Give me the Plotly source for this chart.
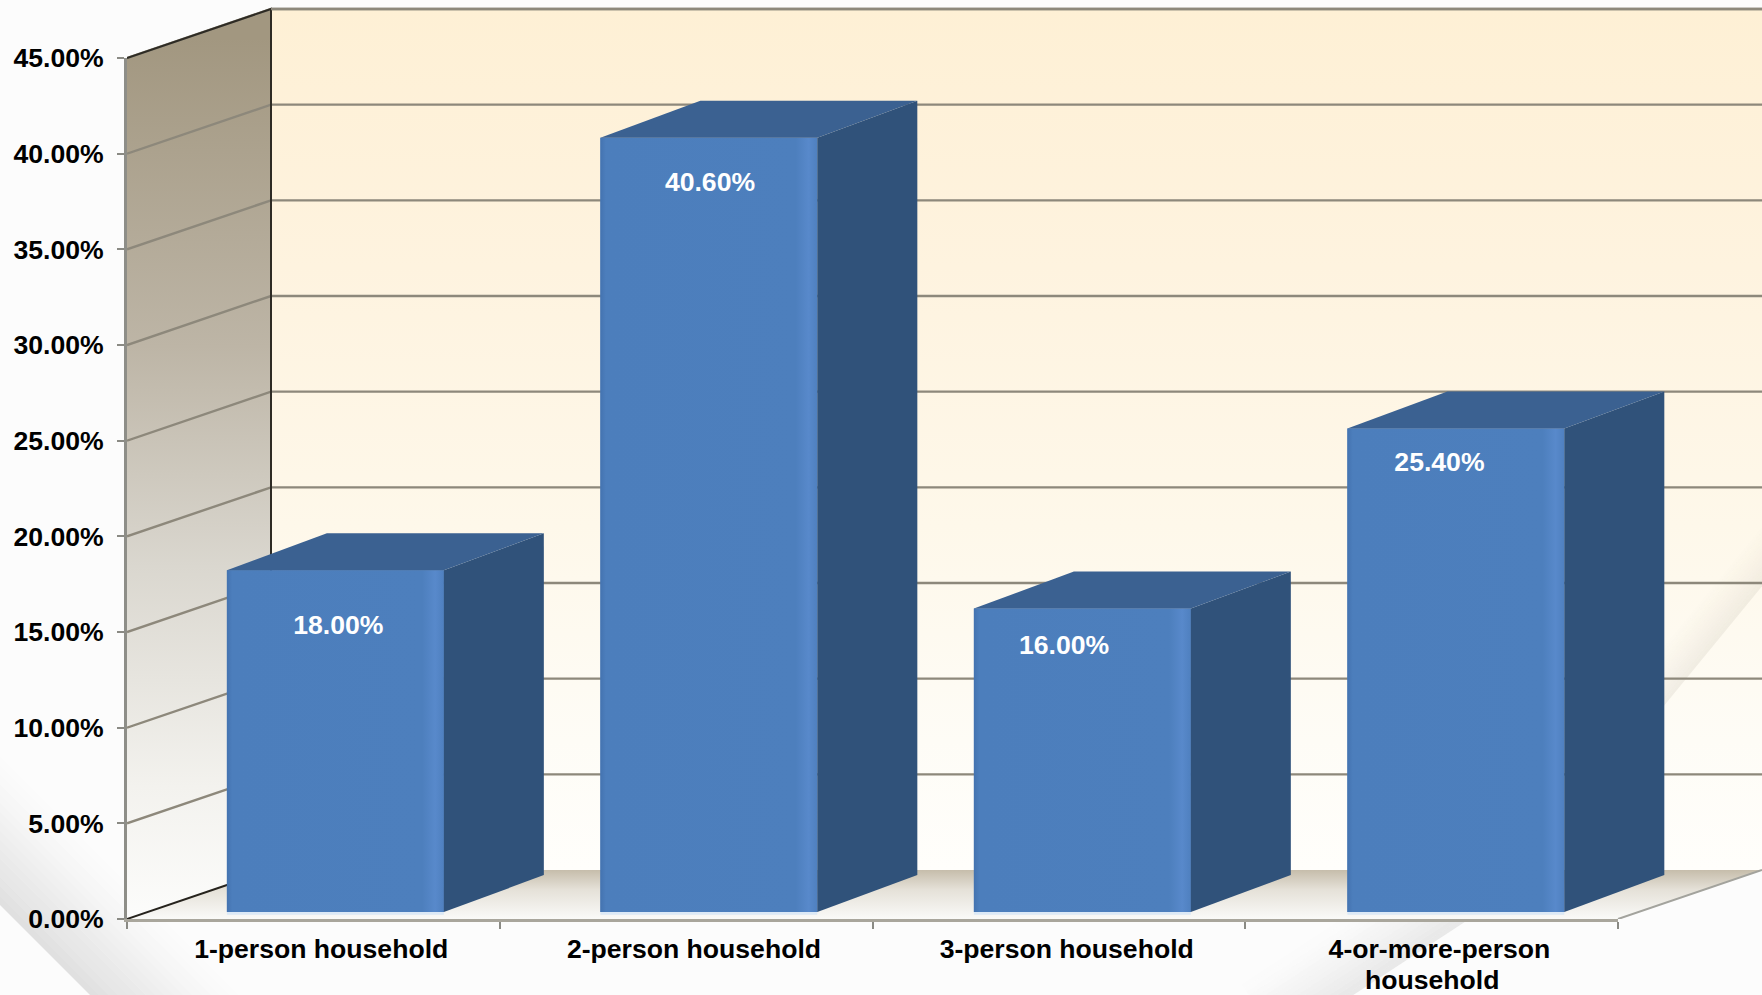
import plotly.graph_objects as go

# ---- data ----
categories = ["1-person household", "2-person household", "3-person household",
              "4-or-more-person<br>household"]
values = [18.0, 40.6, 16.0, 25.4]
value_labels = ["18.00%", "40.60%", "16.00%", "25.40%"]
y_ticks = [0, 5, 10, 15, 20, 25, 30, 35, 40, 45]
y_tick_labels = ["0.00%", "5.00%", "10.00%", "15.00%", "20.00%", "25.00%", "30.00%",
                 "35.00%", "40.00%", "45.00%"]

# ---- layout constants (pixels of the 1762x995 page) ----
W, H = 1762, 995
AX_L, AX_R, AX_B, AX_T = 127, 1618, 919, 58
DEP_X, DEP_Y = 144, 49
UX = (AX_R - AX_L) / 4
UY = (AX_B - AX_T) / 45
WALL_DX, WALL_DY = DEP_X / UX, DEP_Y / UY
BAR_L, BAR_W, BAR_STEP = 0.268, 0.582, 1.002
BAR_BASE = 0.36
TOP_LIFT = 0.23
BAR_DX, BAR_DY = 100 / UX, 37 / UY
LABEL_DX = [0.567, 0.564, 0.514, 0.521]
LABEL_DY = [2.75, 2.20, 1.80, 1.63]
TICK_SHIFT = 0.521
SECOND_LINE_SHIFT = -0.021
SECOND_LINE_PX = 980
FONT = "Liberation Sans"
FS = 26.6
GRID = "#8D887B"
WALL_XMAX = (W - AX_L - DEP_X) / UX
PLOT_XMAX = (W - AX_L) / UX

fig = go.Figure()


def px_poly(pts, xa="x", ya="y", **kw):
    xs = [p[0] for p in pts] + [pts[0][0]]
    ys = [p[1] for p in pts] + [pts[0][1]]
    fig.add_trace(go.Scatter(x=xs, y=ys, mode="lines", fill="toself", line=dict(width=0),
                             hoverinfo="skip", showlegend=False, xaxis=xa, yaxis=ya, **kw))


def wall_line(xs, ys, color, width=2.4):
    fig.add_trace(go.Scatter(x=xs, y=ys, mode="lines", line=dict(color=color, width=width),
                             hoverinfo="skip", showlegend=False, xaxis="x2", yaxis="y2"))


def swoosh(p0, p1, normal, width, rgb, alpha, n=16):
    """Soft diagonal band: sharp along p0-p1, fading along the normal."""
    for k in range(n):
        a = alpha * (1 - k / n) ** 1.3
        t0, t1 = k / n * width, (k + 1) / n * width
        px_poly([(p0[0] + normal[0] * t0, p0[1] + normal[1] * t0),
                 (p1[0] + normal[0] * t0, p1[1] + normal[1] * t0),
                 (p1[0] + normal[0] * t1, p1[1] + normal[1] * t1),
                 (p0[0] + normal[0] * t1, p0[1] + normal[1] * t1)],
                fillcolor=f"rgba({rgb},{a:.3f})")


# ---- decoration layer (page pixels) ----
# page swooshes, under the chart walls
swoosh((-150, 755), (170, 1075), (0.707, -0.707), 105, "170,170,170", 0.34)
swoosh((1280, 1043), (1480, 912), (-0.548, -0.836), 70, "175,175,175", 0.25)

WL, WB, WT = AX_L + DEP_X, AX_B - DEP_Y, AX_T - DEP_Y
px_poly([(AX_L, AX_T), (WL, WT), (WL, WB), (AX_L, AX_B)],
        fillgradient=dict(type="vertical", start=AX_T - 20, stop=AX_B,
                          colorscale=[[0, "#A29780"], [0.35, "#BDB5A6"], [0.6, "#DAD7CF"],
                                      [0.85, "#F3F2EE"], [1, "#FCFCFB"]]))
px_poly([(WL, WT), (W, WT), (W, WB), (WL, WB)],
        fillgradient=dict(type="vertical", start=WT, stop=WB,
                          colorscale=[[0, "#FEF0D5"], [0.3, "#FEF3DF"], [0.6, "#FEF8EA"],
                                      [0.85, "#FEFCF6"], [1, "#FFFEFB"]]))
px_poly([(AX_L, AX_B), (WL, WB), (W, WB), (AX_R, AX_B)],
        fillgradient=dict(type="vertical", start=WB, stop=AX_B,
                          colorscale=[[0, "#C6BDAB"], [0.4, "#E5E1D8"], [1, "#FAFAF8"]]))
# soft band on the back wall
swoosh((1800, 540), (1640, 735), (-0.774, -0.633), 40, "190,185,170", 0.2)

# ---- chart walls: gridlines from the tick values ----
for v in y_ticks[1:]:
    wall_line([-WALL_DX, 0, WALL_XMAX], [v - WALL_DY, v, v], GRID)
wall_line([-WALL_DX, 0, 0], [45 - WALL_DY, 45, 0], "#2E2B24", 2)
wall_line([0, WALL_XMAX], [45, 45], GRID)
wall_line([-WALL_DX, 0], [-WALL_DY, 0], "#26231D", 2)
wall_line([4 - WALL_DX, WALL_XMAX], [-WALL_DY, 0], "#A3A39D", 2)

# ---- bars ----
lefts = [i * BAR_STEP + BAR_L for i in range(len(values))]
centers = [l + BAR_W / 2 for l in lefts]
rights = [l + BAR_W for l in lefts]

fig.add_trace(go.Bar(x=centers, y=[0.14] * 4, base=BAR_BASE - 0.14, width=BAR_W,
                     marker=dict(color="#DCE9F6", line=dict(width=0)),
                     hoverinfo="skip", showlegend=False, xaxis="x3", yaxis="y3"))
fig.add_trace(go.Bar(x=centers, y=[v + TOP_LIFT - BAR_BASE for v in values], base=BAR_BASE, width=BAR_W,
                     marker=dict(color="#4C7EBC", line=dict(width=0)),
                     hoverinfo="skip", showlegend=False, xaxis="x3", yaxis="y3"))

for l, r, v in zip(lefts, rights, values):
    top = v + TOP_LIFT
    px_poly([(l, BAR_BASE), (r, BAR_BASE), (r, top), (l, top)], xa="x4", ya="y4",
            fillgradient=dict(type="horizontal", start=l, stop=r,
                              colorscale=[[0, "#4473B0"], [0.025, "#4C7EBC"], [0.9, "#4D7FBD"],
                                          [0.96, "#5889CB"], [1, "#4F80BF"]]))
    px_poly([(r, BAR_BASE), (r + BAR_DX, BAR_BASE + BAR_DY), (r + BAR_DX, top + BAR_DY), (r, top)],
            xa="x4", ya="y4", fillcolor="#30527A")
    px_poly([(l, top), (r, top), (r + BAR_DX, top + BAR_DY), (l + BAR_DX, top + BAR_DY)],
            xa="x4", ya="y4", fillcolor="#3B6191")

fig.add_trace(go.Scatter(
    x=[i + d for i, d in enumerate(LABEL_DX)],
    y=[v - d for v, d in zip(values, LABEL_DY)],
    mode="text", text=value_labels, textposition="middle center",
    textfont=dict(family=FONT, size=FS, color="white", weight="bold"),
    hoverinfo="skip", showlegend=False, xaxis="x4", yaxis="y4"))

# x labels: first lines on the axis, wrapped remainder placed at the reference's tighter leading
first_lines = [c.split("<br>")[0] for c in categories]
annotations = [dict(text=c.split("<br>")[1], x=i + TICK_SHIFT + SECOND_LINE_SHIFT, xref="x3",
                    y=(H - SECOND_LINE_PX) / H, yref="paper", xanchor="center", yanchor="middle",
                    showarrow=False,
                    font=dict(family=FONT, size=FS, color="#000000", weight="bold"))
               for i, c in enumerate(categories) if "<br>" in c]

hidden = dict(visible=False, fixedrange=True)
fig.update_layout(
    width=W, height=H, autosize=False, margin=dict(l=0, r=0, t=0, b=0, pad=0, autoexpand=False),
    paper_bgcolor="#FCFCFC", plot_bgcolor="rgba(0,0,0,0)", barmode="overlay",
    font=dict(family=FONT, size=FS, color="#000000"), showlegend=False, annotations=annotations,
    xaxis=dict(domain=[0, 1], range=[0, W], anchor="y", **hidden),
    yaxis=dict(domain=[0, 1], range=[H, 0], anchor="x", **hidden),
    xaxis2=dict(domain=[AX_L / W, 1], range=[-WALL_DX, WALL_XMAX], anchor="y2", **hidden),
    yaxis2=dict(domain=[(H - AX_B) / H, (H - WT + 2) / H], range=[-WALL_DY, 45 + 2 / UY], anchor="x2", **hidden),
    xaxis3=dict(domain=[AX_L / W, AX_R / W], range=[0, 4], anchor="y3",
                tickmode="array", tickvals=[i + TICK_SHIFT for i in range(4)], ticktext=first_lines,
                ticks="", tickfont=dict(family=FONT, size=FS, color="#000000", weight="bold"),
                ticklabelstandoff=4, showline=True, linecolor="#A9A69C", linewidth=3,
                showgrid=False, zeroline=False, automargin=False,
                minor=dict(tickmode="array", tickvals=[0, 1, 2, 3, 4], ticks="outside", ticklen=7,
                           tickcolor="#8A8A84", tickwidth=2, showgrid=False)),
    yaxis3=dict(domain=[(H - AX_B) / H, (H - AX_T) / H], range=[0, 45], anchor="x3",
                tickmode="array", tickvals=y_ticks, ticktext=y_tick_labels,
                ticks="outside", ticklen=7, tickcolor="#8A8A84", tickwidth=2,
                tickfont=dict(family=FONT, size=FS, color="#000000", weight="bold"),
                ticklabelstandoff=8, showline=True, linecolor="#8E8E88", linewidth=3,
                showgrid=False, zeroline=False, automargin=False),
    xaxis4=dict(domain=[AX_L / W, 1], range=[0, PLOT_XMAX], anchor="y4", **hidden),
    yaxis4=dict(domain=[(H - AX_B) / H, (H - AX_T) / H], range=[0, 45], anchor="x4", **hidden),
)
fig.write_html("out.html", config=dict(displayModeBar=False),
               post_script="document.body.style.margin='0';document.documentElement.style.overflow='hidden';")
